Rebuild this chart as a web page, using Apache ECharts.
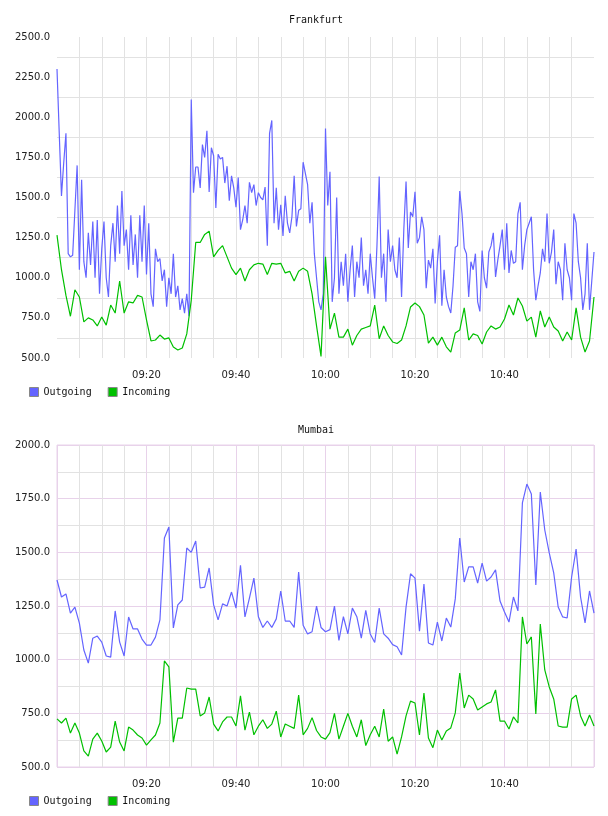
<!DOCTYPE html>
<html lang="en">
<head>
    <meta charset="UTF-8" />
    <title>Traffic</title>
    <script src="https://cdn.jsdelivr.net/npm/echarts@6/dist/echarts.min.js"></script>
    <style type="text/css">
        html, body { margin: 0; padding: 0; background: #fff; }
        #chart { width: 608px; height: 816px; }
    </style>
</head>
<body>
    <div id="chart"></div>
    <script type="text/javascript">
        // start of window, minutes after midnight
        var startMin = 540;
        var endMin = 660;
        var titles = ['Frankfurt', 'Mumbai'];
        var seriesNames = ['Outgoing', 'Incoming'];
        var yTicks = [[500, 750, 1000, 1250, 1500, 1750, 2000, 2250, 2500], [500, 750, 1000, 1250, 1500, 1750, 2000]];

        // Frankfurt outgoing, one sample every 30 s
        var fraOut = [2300, 1900, 1510, 1715, 1900, 1150, 1130, 1140, 1420, 1700,
            1050, 1610, 1100, 1000, 1280, 1080, 1350, 1000, 1360, 900,
            1180, 1350, 1000, 880, 1200, 1340, 1100, 1450, 1150, 1540,
            1200, 1300, 1050, 1390, 1080, 1270, 1000, 1390, 1100, 1450,
            1020, 1340, 900, 820, 1180, 1100, 1120, 980, 1050, 820,
            1000, 900, 1150, 880, 950, 800, 870, 780, 900, 760,
            2110, 1530, 1690, 1690, 1560, 1830, 1750, 1915, 1535, 1810,
            1760, 1435, 1770, 1740, 1750, 1590, 1695, 1480, 1635, 1560,
            1440, 1625, 1300, 1360, 1450, 1340, 1595, 1530, 1580, 1450,
            1530, 1500, 1485, 1565, 1200, 1900, 1980, 1340, 1560, 1300,
            1455, 1260, 1510, 1340, 1280, 1380, 1635, 1320, 1420, 1430,
            1720, 1650, 1580, 1340, 1470, 1150, 1000, 850, 800, 900,
            1930, 1450, 1660, 850, 1000, 1500, 900, 1100, 950, 1150,
            850, 1050, 1200, 880, 1100, 1000, 1250, 950, 1050, 900,
            1150, 1000, 870, 1200, 1630, 1000, 1150, 850, 1300, 1100,
            1200, 1050, 1000, 1250, 880, 1300, 1600, 1185, 1410, 1380,
            1535, 1215, 1250, 1380, 1300, 935, 1110, 1060, 1180, 840,
            1100, 1265, 825, 1050, 880, 820, 780, 950, 1190, 1200,
            1540, 1400, 1185, 1150, 880, 1100, 1050, 1150, 850, 790,
            1170, 1000, 935, 1160, 1200, 1280, 1005, 1110, 1200, 1300,
            1050, 1340, 1030, 1170, 1090, 1100, 1400, 1470, 1050, 1200,
            1300, 1340, 1380, 1050, 860, 950, 1030, 1180, 1100, 1400,
            1090, 1160, 1300, 960, 1100, 1050, 860, 1215, 1050, 1000,
            860, 1400, 1340, 1100, 1000, 800, 900, 1215, 800, 980,
            1160];

        // Frankfurt incoming, one sample a minute
        var fraIn = [1266, 1050, 890, 760, 925, 880, 725, 750, 737, 700,
            755, 705, 830, 780, 980, 780, 850, 843, 890, 880,
            737, 606, 612, 643, 618, 625, 568, 550, 562, 650,
            860, 1220, 1220, 1270, 1290, 1130, 1170, 1200, 1130, 1060,
            1020, 1060, 980, 1050, 1080, 1090, 1085, 1020, 1090, 1085,
            1090, 1030, 1040, 980, 1040, 1060, 1040, 900, 700, 510,
            1130, 680, 780, 630, 630, 680, 580, 640, 680, 690,
            700, 830, 620, 700, 640, 600, 590, 612, 700, 818,
            843, 820, 768, 593, 630, 580, 630, 570, 537, 656,
            674, 812, 612, 650, 640, 587, 662, 700, 680, 693,
            743, 830, 768, 874, 824, 730, 755, 630, 793, 693,
            755, 693, 668, 606, 662, 612, 812, 630, 537, 606,
            880];

        // Mumbai outgoing, one sample a minute
        var bomOut = [1371, 1292, 1306, 1217, 1245, 1170, 1045, 984, 1100, 1110,
            1082, 1017, 1012, 1227, 1082, 1017, 1199, 1143, 1143, 1096,
            1068, 1068, 1105, 1185, 1567, 1618, 1148, 1255, 1278, 1520,
            1500, 1553, 1334, 1338, 1427, 1255, 1185, 1260, 1250, 1315,
            1240, 1440, 1199, 1287, 1380, 1200, 1150, 1180, 1150, 1190,
            1320, 1180, 1180, 1150, 1408, 1160, 1120, 1130, 1250, 1150,
            1130, 1140, 1250, 1090, 1200, 1120, 1240, 1200, 1100, 1230,
            1120, 1080, 1240, 1120, 1100, 1070, 1060, 1022, 1245, 1400,
            1380, 1133, 1352, 1078, 1068, 1175, 1087, 1194, 1152, 1283,
            1567, 1362, 1432, 1432, 1357, 1450, 1366, 1385, 1418, 1273,
            1222, 1175, 1292, 1227, 1730, 1818, 1772, 1348, 1781, 1604,
            1497, 1404, 1245, 1199, 1194, 1385, 1515, 1292, 1171, 1320,
            1217];

        // Mumbai incoming, one sample a minute
        var bomIn = [724, 705, 728, 658, 705, 658, 575, 551, 630, 658,
            621, 570, 593, 714, 616, 575, 686, 672, 649, 635,
            602, 626, 649, 705, 994, 966, 616, 728, 728, 868,
            863, 863, 738, 752, 826, 700, 668, 710, 733, 733,
            691, 831, 672, 756, 650, 690, 720, 680, 700, 760,
            640, 700, 690, 680, 835, 650, 680, 730, 670, 640,
            630, 660, 750, 630, 690, 750, 690, 640, 720, 600,
            650, 690, 640, 770, 620, 640, 560, 640, 738, 807,
            798, 649, 845, 635, 590, 672, 626, 668, 682, 752,
            938, 775, 835, 817, 766, 780, 794, 803, 859, 714,
            714, 677, 733, 705, 1199, 1073, 1106, 747, 1166, 952,
            873, 817, 691, 686, 686, 817, 835, 738, 691, 742,
            691];

        var outColor = '#6464ff';
        var inColor = '#00c000';
        var pink = '#e8d2ea';
        var grey = '#e2e2e2';

        function pairs(vals, stepMin) {
            return vals.map(function (v, i) { return [startMin + i * stepMin, v]; });
        }
        function hhmm(v) {
            var h = Math.floor(v / 60), m = Math.round(v % 60);
            return (h < 10 ? '0' : '') + h + ':' + (m < 10 ? '0' : '') + m;
        }

        var labelFont = { fontFamily: 'DejaVu Sans', fontSize: 10, color: '#222' };
        var monoFont = { fontFamily: 'DejaVu Sans Mono', fontSize: 10, color: '#111' };

        var grids = [
            { left: 57, top: 37, width: 537, height: 321, show: false },
            { left: 57, top: 445, width: 537, height: 322, show: true, borderColor: pink, borderWidth: 1 }
        ];

        function xAxis(idx, major) {
            return {
                type: 'value', gridIndex: idx, min: startMin, max: endMin, interval: 20,
                axisLine: { show: false }, axisTick: { show: false },
                axisLabel: Object.assign({ formatter: hhmm, showMinLabel: false, showMaxLabel: false, margin: 12 }, labelFont),
                splitLine: { show: true, showMinLine: idx == 1, showMaxLine: idx == 1, lineStyle: { color: major, width: 1 } },
                minorTick: { show: false, splitNumber: 4 },
                minorSplitLine: { show: true, lineStyle: { color: grey, width: 1 } }
            };
        }
        function yAxis(idx, max, showMajor) {
            return {
                type: 'value', gridIndex: idx, min: 500, max: max, interval: 250,
                axisLine: { show: false }, axisTick: { show: false },
                axisLabel: Object.assign({ formatter: function (v) { return v.toFixed(1); }, margin: 7 }, labelFont),
                splitLine: { show: showMajor, lineStyle: { color: pink, width: 1 } },
                minorTick: { show: false, splitNumber: 2 },
                minorSplitLine: { show: true, lineStyle: { color: grey, width: 1 } }
            };
        }

        function line(name, idx, data, color) {
            return {
                name: name, type: 'line', xAxisIndex: idx, yAxisIndex: idx,
                data: data, showSymbol: false, symbol: 'none',
                lineStyle: { color: color, width: 1.2 }, itemStyle: { color: color },
                emphasis: { disabled: true }
            };
        }

        var chart = echarts.init(document.getElementById('chart'), null, { renderer: 'canvas' });
        var option = {
            animation: false,
            backgroundColor: '#fff',
            title: [
                { text: titles[0], left: 311, top: 10, textAlign: 'center', textStyle: Object.assign({ fontWeight: 'normal' }, monoFont) },
                { text: titles[1], left: 311, top: 420, textAlign: 'center', textStyle: Object.assign({ fontWeight: 'normal' }, monoFont) }
            ],
            legend: [
                { data: seriesNames, left: 24, top: 382, icon: 'rect', itemWidth: 9, itemHeight: 9, itemGap: 16,
                  itemStyle: { borderColor: '#888', borderWidth: 1 }, textStyle: monoFont, selectedMode: false },
                { data: seriesNames, left: 24, top: 791, icon: 'rect', itemWidth: 9, itemHeight: 9, itemGap: 16,
                  itemStyle: { borderColor: '#888', borderWidth: 1 }, textStyle: monoFont, selectedMode: false }
            ],
            grid: grids,
            xAxis: [xAxis(0, grey), xAxis(1, pink)],
            yAxis: [yAxis(0, yTicks[0][yTicks[0].length - 1], false), yAxis(1, yTicks[1][yTicks[1].length - 1], true)],
            series: [
                line(seriesNames[0], 0, pairs(fraOut, 0.5), outColor),
                line(seriesNames[1], 0, pairs(fraIn, 1), inColor),
                line(seriesNames[0], 1, pairs(bomOut, 1), outColor),
                line(seriesNames[1], 1, pairs(bomIn, 1), inColor)
            ]
        };
        chart.setOption(option, true);
    </script>
</body>
</html>
